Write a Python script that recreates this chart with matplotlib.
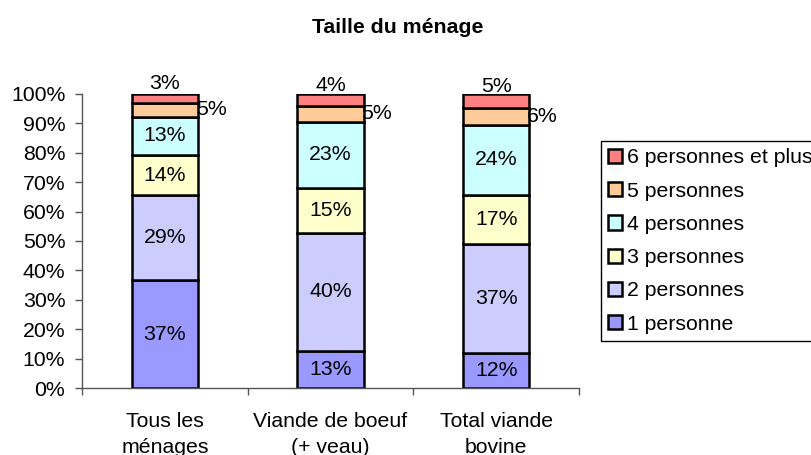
import matplotlib
matplotlib.use("Agg")
import matplotlib.pyplot as plt
import numpy as np

plt.rcParams['font.family'] = ['Liberation Sans', 'DejaVu Sans']

categories = ["Tous les\nménages", "Viande de boeuf\n(+ veau)", "Total viande\nbovine"]
series = ["1 personne", "2 personnes", "3 personnes", "4 personnes",
          "5 personnes", "6 personnes et plus"]
# parts en %
p1 = [36.6, 12.7, 11.8]
p2 = [28.9, 40.1, 37.3]
p3 = [13.8, 15.2, 16.6]
p4 = [12.9, 22.6, 23.8]
p5 = [4.9, 5.2, 5.6]
p6 = [2.9, 4.2, 4.9]
colors = ["#9999FF", "#CCCCFF", "#FFFFCC", "#CCFFFF", "#FFCC99", "#FF8080"]

values = [p1, p2, p3, p4, p5, p6]
fs = 15.3

fig = plt.figure(figsize=(8.11, 4.55), dpi=100)
ax = fig.add_axes([82/811, 1-388/455, (579-82)/811, (388-94)/455])

x = np.arange(len(categories))
bottom = np.zeros(len(categories))
bars = []
for k, vals in enumerate(values):
    v = np.array(vals) / 100
    b = ax.bar(x, v, 0.40, bottom=bottom, color=colors[k], edgecolor='black',
               linewidth=1.8, label=series[k], zorder=2)
    bars.append(b)
    for i in range(len(x)):
        lab = "%d%%" % round(vals[i])
        yc = bottom[i] + v[i] / 2
        if k == 4:
            ax.text(x[i] + 0.28, yc, lab, ha='center', va='center', fontsize=fs, zorder=3)
        elif k == 5:
            ax.text(x[i], yc + 0.05, lab, ha='center', va='center', fontsize=fs, zorder=3)
        else:
            ax.text(x[i], yc, lab, ha='center', va='center', fontsize=fs, zorder=3)
    bottom += v

ax.set_xlim(-0.5, 2.5)
ax.set_ylim(0, 1)
ax.set_yticks(np.arange(0, 1.01, 0.1))
ax.set_yticklabels(["%d%%" % t for t in range(0, 101, 10)], fontsize=fs)
ax.set_xticks(x)
ax.set_xticklabels(categories, fontsize=fs, linespacing=1.42)
ax.set_xticks([-0.5, 0.5, 1.5, 2.5], minor=True)
ax.tick_params(axis='x', which='major', length=0, pad=17.5)
ax.tick_params(axis='x', which='minor', length=5, color='#555555', width=1)
ax.tick_params(axis='y', length=5, color='#555555', width=1, pad=7)
for s in ['top', 'right']:
    ax.spines[s].set_visible(False)
for s in ['left', 'bottom']:
    ax.spines[s].set_color('#555555')
    ax.spines[s].set_linewidth(1)

fig.text(398/811, 1-33/455, "Taille du ménage", ha='center', va='baseline',
         fontsize=fs, fontweight='bold')

handles = bars[::-1]
leg = fig.legend(handles, series[::-1], loc='upper left',
                 bbox_to_anchor=(601/811, 1-141/455), fontsize=fs,
                 fancybox=False, edgecolor='black', framealpha=1,
                 handlelength=0.66, handleheight=0.66, handletextpad=0.2,
                 labelspacing=0.67, borderpad=0.35, borderaxespad=0)
leg.get_frame().set_linewidth(1)

fig.savefig("out.png", dpi=100)
